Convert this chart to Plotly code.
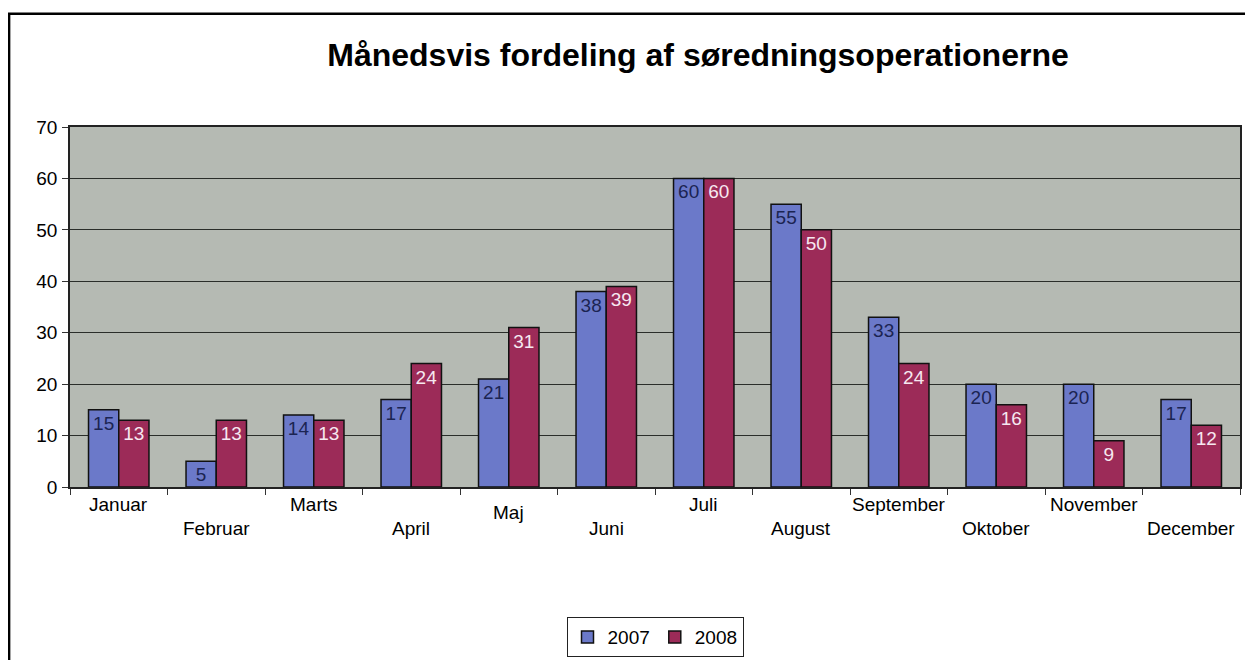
import plotly.graph_objects as go

months = ["Januar", "Februar", "Marts", "April", "Maj", "Juni", "Juli",
          "August", "September", "Oktober", "November", "December"]
v2007 = [15, 5, 14, 17, 21, 38, 60, 55, 33, 20, 20, 17]
v2008 = [13, 13, 13, 24, 31, 39, 60, 50, 24, 16, 9, 12]
yticks = [0, 10, 20, 30, 40, 50, 60, 70]

# page has an 8px body margin, so the figure is sized to fit inside it
W, H = 1237, 652
L, R, T, B = 62, 3, 119, 171
pw, ph = W - L - R, H - T - B
FONT = "Liberation Sans, Arial"

fig = go.Figure()
fig.add_trace(go.Bar(
    x=months, y=v2007, name="2007",
    marker=dict(color="#6b79c9", line=dict(color="#111111", width=1.5)),
    text=[str(v) for v in v2007], textposition="inside", insidetextanchor="end",
    textangle=0, textfont=dict(color="#1b2452", size=19, family=FONT),
    constraintext="none", cliponaxis=False,
))
fig.add_trace(go.Bar(
    x=months, y=v2008, name="2008",
    marker=dict(color="#9c2b58", line=dict(color="#111111", width=1.5)),
    text=[str(v) for v in v2008], textposition="inside", insidetextanchor="end",
    textangle=0, textfont=dict(color="#f6e8f0", size=19, family=FONT),
    constraintext="none", cliponaxis=False,
))

# staggered category labels
row_shift = [-5, -29, -5, -29, -13, -29, -5, -29, -5, -29, -5, -29]
for m, s in zip(months, row_shift):
    fig.add_annotation(x=m, y=0, xref="x", yref="y", text=m, showarrow=False,
                       yanchor="top", yshift=s,
                       font=dict(size=19, color="#000000", family=FONT))

# outer frame (scanned border: left & top visible)
fig.add_shape(type="rect", xref="paper", yref="paper",
              x0=(1 - L) / pw, x1=(W + 20 - L) / pw,
              y0=(H - B - (H + 20)) / ph, y1=(H - B - 5) / ph,
              line=dict(color="#000000", width=2.5), fillcolor="rgba(0,0,0,0)", layer="below")

fig.update_layout(
    width=W, height=H,
    margin=dict(l=L, r=R, t=T, b=B),
    paper_bgcolor="#ffffff",
    plot_bgcolor="#b5bab3",
    barmode="group", bargap=0.38, bargroupgap=0.0,
    font=dict(family=FONT, size=19, color="#000000"),
    title=dict(text="<b>Månedsvis fordeling af søredningsoperationerne</b>",
               x=690 / W, xanchor="center",
               y=1 - 47 / H, yanchor="middle",
               font=dict(size=32, color="#000000", family=FONT)),
    showlegend=True,
    legend=dict(orientation="h", x=(648 - L) / pw, xanchor="center",
                y=(H - B - 632) / ph, yanchor="middle",
                bordercolor="#222222", borderwidth=1, bgcolor="#ffffff",
                font=dict(size=19, color="#000000", family=FONT),
                itemwidth=30, tracegroupgap=0),
    xaxis=dict(type="category", showticklabels=False, ticks="outside", ticklen=6,
               tickcolor="#333333", tickson="boundaries", showgrid=False,
               showline=True, linecolor="#222222", linewidth=1.5, mirror=True,
               zeroline=False),
    yaxis=dict(range=[0, 70], tickvals=yticks, ticks="outside", ticklen=6,
               tickcolor="#333333", showgrid=True, gridcolor="#2a2e2a", gridwidth=1.2,
               showline=True, linecolor="#222222", linewidth=1.5, mirror=True,
               zeroline=False, tickfont=dict(size=19, color="#000000", family=FONT),
               ticklabelstandoff=1),
)

fig.write_html("out.html")
